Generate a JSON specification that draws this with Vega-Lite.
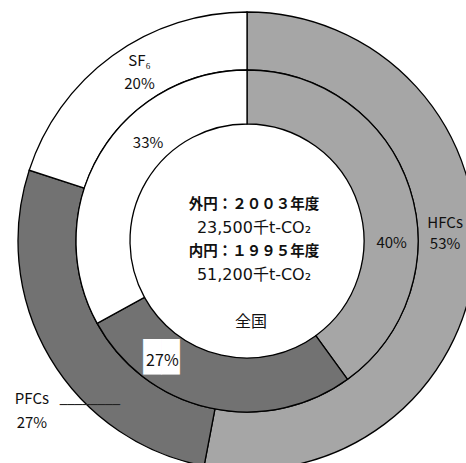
{
  "$schema": "https://vega.github.io/schema/vega-lite/v6.json",
  "width": 438,
  "height": 444,
  "autosize": "none",
  "padding": {"left": 28, "top": 19, "right": 0, "bottom": 0},
  "background": "white",
  "config": {
    "view": {"stroke": null},
    "text": {"font": "Noto Sans CJK JP", "fontSize": 15, "color": "#111111", "align": "center", "baseline": "middle"}
  },
  "datasets": {
    "outer": [
      {"gas": "HFCs", "name": "HFCs", "share": 53},
      {"gas": "PFCs", "name": "PFCs", "share": 27},
      {"gas": "SF6", "name": "SF₆", "share": 20}
    ],
    "inner": [
      {"gas": "HFCs", "name": "HFCs", "share": 40},
      {"gas": "PFCs", "name": "PFCs", "share": 27},
      {"gas": "SF6", "name": "SF₆", "share": 33}
    ],
    "captions": [
      {"role": "year", "lines": ["外円：２００３年度", "内円：１９９５年度"]},
      {"role": "total", "lines": ["23,500千t-CO₂", "51,200千t-CO₂"]},
      {"role": "region", "lines": ["全国"]}
    ]
  },
  "layer": [
    {
      "data": {"name": "outer"},
      "mark": {"type": "arc", "radius": 229, "radius2": 171, "stroke": "#000000", "strokeWidth": 1.3},
      "encoding": {
        "theta": {"field": "share", "type": "quantitative", "stack": true},
        "order": {"field": "gas", "type": "ordinal"},
        "color": {"field": "gas", "type": "nominal", "legend": null,
          "scale": {"domain": ["HFCs", "PFCs", "SF6"], "range": ["#a6a6a6", "#727272", "#ffffff"]}}
      }
    },
    {
      "data": {"name": "inner"},
      "mark": {"type": "arc", "radius": 171, "radius2": 117, "stroke": "#000000", "strokeWidth": 1.3},
      "encoding": {
        "theta": {"field": "share", "type": "quantitative", "stack": true},
        "order": {"field": "gas", "type": "ordinal"},
        "color": {"field": "gas", "type": "nominal", "legend": null}
      }
    },
    {
      "data": {"name": "inner"},
      "mark": {"type": "text", "radius": 145, "dx": -54, "dy": -25, "font": "DejaVu Sans Mono", "fontSize": 30, "color": "#ffffff"},
      "encoding": {
        "theta": {"field": "share", "type": "quantitative", "stack": true},
        "order": {"field": "gas", "type": "ordinal"},
        "detail": {"field": "gas"},
        "text": {"condition": {"test": "datum.gas === 'PFCs'", "value": "██"}, "value": ""}
      }
    },
    {
      "data": {"name": "outer"},
      "mark": {"type": "text", "radius": 229, "dx": 40, "dy": 47, "font": "DejaVu Sans Mono", "fontSize": 12.5, "color": "#222222"},
      "encoding": {
        "theta": {"field": "share", "type": "quantitative", "stack": true},
        "order": {"field": "gas", "type": "ordinal"},
        "detail": {"field": "gas"},
        "text": {"condition": {"test": "datum.gas === 'PFCs'", "value": "────────"}, "value": ""}
      }
    },
    {
      "data": {"name": "outer"},
      "transform": [{"calculate": "[datum.name, datum.share + '%']", "as": "tag"}],
      "mark": {"type": "text", "radius": 205, "dx": 13, "dy": -14, "lineHeight": 23},
      "encoding": {
        "theta": {"field": "share", "type": "quantitative", "stack": true},
        "order": {"field": "gas", "type": "ordinal"},
        "detail": {"field": "gas"},
        "text": {"condition": {"test": "datum.gas === 'SF6'", "field": "tag"}, "value": ""}
      }
    },
    {
      "data": {"name": "outer"},
      "transform": [{"calculate": "[datum.name, datum.share + '%']", "as": "tag"}],
      "mark": {"type": "text", "radius": 203, "dx": -4, "dy": -37, "lineHeight": 21},
      "encoding": {
        "theta": {"field": "share", "type": "quantitative", "stack": true},
        "order": {"field": "gas", "type": "ordinal"},
        "detail": {"field": "gas"},
        "text": {"condition": {"test": "datum.gas === 'HFCs'", "field": "tag"}, "value": ""}
      }
    },
    {
      "data": {"name": "outer"},
      "transform": [{"calculate": "[datum.name, datum.share + '%']", "as": "tag"}],
      "mark": {"type": "text", "radius": 229, "dx": -18, "dy": 41, "lineHeight": 24},
      "encoding": {
        "theta": {"field": "share", "type": "quantitative", "stack": true},
        "order": {"field": "gas", "type": "ordinal"},
        "detail": {"field": "gas"},
        "text": {"condition": {"test": "datum.gas === 'PFCs'", "field": "tag"}, "value": ""}
      }
    },
    {
      "data": {"name": "inner"},
      "transform": [{"calculate": "datum.share + '%'", "as": "tag"}],
      "mark": {"type": "text", "radius": 144, "dx": 25, "dy": -25},
      "encoding": {
        "theta": {"field": "share", "type": "quantitative", "stack": true},
        "order": {"field": "gas", "type": "ordinal"},
        "detail": {"field": "gas"},
        "text": {"condition": {"test": "datum.gas === 'SF6'", "field": "tag"}, "value": ""}
      }
    },
    {
      "data": {"name": "inner"},
      "transform": [{"calculate": "datum.share + '%'", "as": "tag"}],
      "mark": {"type": "text", "radius": 150, "dx": 2, "dy": 48},
      "encoding": {
        "theta": {"field": "share", "type": "quantitative", "stack": true},
        "order": {"field": "gas", "type": "ordinal"},
        "detail": {"field": "gas"},
        "text": {"condition": {"test": "datum.gas === 'HFCs'", "field": "tag"}, "value": ""}
      }
    },
    {
      "data": {"name": "inner"},
      "transform": [{"calculate": "datum.share + '%'", "as": "tag"}],
      "mark": {"type": "text", "radius": 145, "dx": -53, "dy": -22, "fontSize": 16},
      "encoding": {
        "theta": {"field": "share", "type": "quantitative", "stack": true},
        "order": {"field": "gas", "type": "ordinal"},
        "detail": {"field": "gas"},
        "text": {"condition": {"test": "datum.gas === 'PFCs'", "field": "tag"}, "value": ""}
      }
    },
    {
      "data": {"name": "captions"},
      "transform": [{"filter": "datum.role === 'year'"}],
      "mark": {"type": "text", "dx": 7, "dy": -36, "lineHeight": 47, "fontSize": 14.5, "fontWeight": "bold"},
      "encoding": {"text": {"field": "lines"}}
    },
    {
      "data": {"name": "captions"},
      "transform": [{"filter": "datum.role === 'total'"}],
      "mark": {"type": "text", "dx": 7, "dy": -13, "lineHeight": 47, "fontSize": 16, "font": "DejaVu Sans, Noto Sans CJK JP"},
      "encoding": {"text": {"field": "lines"}}
    },
    {
      "data": {"name": "captions"},
      "transform": [{"filter": "datum.role === 'region'"}],
      "mark": {"type": "text", "dx": 4, "dy": 81, "fontSize": 16},
      "encoding": {"text": {"field": "lines"}}
    }
  ]
}
